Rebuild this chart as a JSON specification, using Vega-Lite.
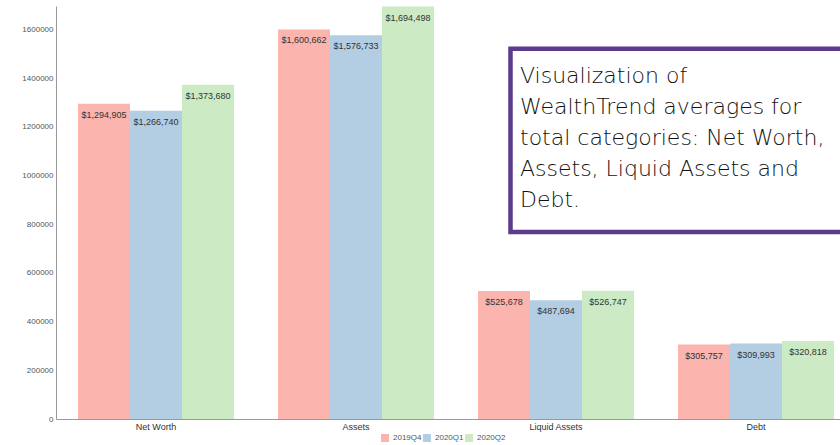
{
  "$schema": "https://vega.github.io/schema/vega-lite/v6.json",
  "width": 784,
  "height": 413,
  "autosize": {"type": "none"},
  "padding": {"left": 56, "top": 6, "right": 0, "bottom": 26},
  "background": "white",
  "config": {"view": {"stroke": null}, "font": "Liberation Sans"},
  "datasets": {
    "bars": [
      {"cat": "Net Worth", "q": "2019Q4", "value": 1294905},
      {"cat": "Net Worth", "q": "2020Q1", "value": 1266740},
      {"cat": "Net Worth", "q": "2020Q2", "value": 1373680},
      {"cat": "Assets", "q": "2019Q4", "value": 1600662},
      {"cat": "Assets", "q": "2020Q1", "value": 1576733},
      {"cat": "Assets", "q": "2020Q2", "value": 1694498},
      {"cat": "Liquid Assets", "q": "2019Q4", "value": 525678},
      {"cat": "Liquid Assets", "q": "2020Q1", "value": 487694},
      {"cat": "Liquid Assets", "q": "2020Q2", "value": 526747},
      {"cat": "Debt", "q": "2019Q4", "value": 305757},
      {"cat": "Debt", "q": "2020Q1", "value": 309993},
      {"cat": "Debt", "q": "2020Q2", "value": 320818}
    ],
    "box": [{"x1": 2.2725, "x2": 4.6, "y1": 768000, "y2": 1521000}],
    "note": [{"x": 2.32, "y": 1379000, "text": ["Visualization of", "WealthTrend averages for", "total categories: Net Worth,", "Assets, Liquid Assets and", "Debt."]}]
  },
  "resolve": {"scale": {"x": "independent"}, "axis": {"x": "independent"}},
  "layer": [
    {
      "data": {"name": "bars"},
      "encoding": {
        "x": {"field": "cat", "type": "nominal", "sort": ["Net Worth", "Assets", "Liquid Assets", "Debt"],
          "scale": {"range": [0, 800], "paddingInner": 0.22, "paddingOuter": 0.11},
          "axis": {"title": null, "labelAngle": 0, "ticks": false, "domainColor": "#999", "labelColor": "#333", "labelFontSize": 9, "labelPadding": 3}},
        "xOffset": {"field": "q", "type": "nominal", "scale": {"paddingInner": 0, "paddingOuter": 0}},
        "y": {"field": "value", "type": "quantitative", "scale": {"domain": [0, 1697000], "nice": false},
          "axis": {"title": null, "format": "d", "values": [0, 200000, 400000, 600000, 800000, 1000000, 1200000, 1400000, 1600000], "ticks": false, "grid": false, "domainColor": "#999", "labelColor": "#555", "labelFontSize": 8, "labelPadding": 3}}
      },
      "layer": [
        {
          "mark": {"type": "bar"},
          "encoding": {
            "color": {"field": "q", "type": "nominal", "scale": {"range": ["#fbb4ae", "#b3cde3", "#ccebc5"]},
              "legend": {"title": null, "orient": "none", "direction": "horizontal", "legendX": 325, "legendY": 428, "symbolType": "square", "symbolSize": 64, "symbolStrokeWidth": 0, "labelFontSize": 8, "labelColor": "#555", "labelOffset": 4, "columnPadding": 1}}
          }
        },
        {
          "mark": {"type": "text", "baseline": "middle", "dy": 11, "fontSize": 9, "color": "#333"},
          "encoding": {
            "text": {"field": "value", "type": "quantitative", "format": "$,.0f"}
          }
        }
      ]
    },
    {
      "data": {"name": "box"},
      "mark": {"type": "rect", "fill": "white", "stroke": "#5c3b8c", "strokeWidth": 4.5},
      "encoding": {
        "x": {"field": "x1", "type": "quantitative", "scale": {"domain": [0, 4], "range": [0, 800]}, "axis": null},
        "x2": {"field": "x2"},
        "y": {"field": "y1", "type": "quantitative"},
        "y2": {"field": "y2"}
      }
    },
    {
      "data": {"name": "note"},
      "mark": {"type": "text", "align": "left", "baseline": "alphabetic", "font": "DejaVu Sans", "fontWeight": 200, "fontSize": 22, "lineHeight": 31, "color": "#111"},
      "encoding": {
        "x": {"field": "x", "type": "quantitative", "scale": {"domain": [0, 4], "range": [0, 800]}, "axis": null},
        "y": {"field": "y", "type": "quantitative"},
        "text": {"field": "text"}
      }
    }
  ]
}
